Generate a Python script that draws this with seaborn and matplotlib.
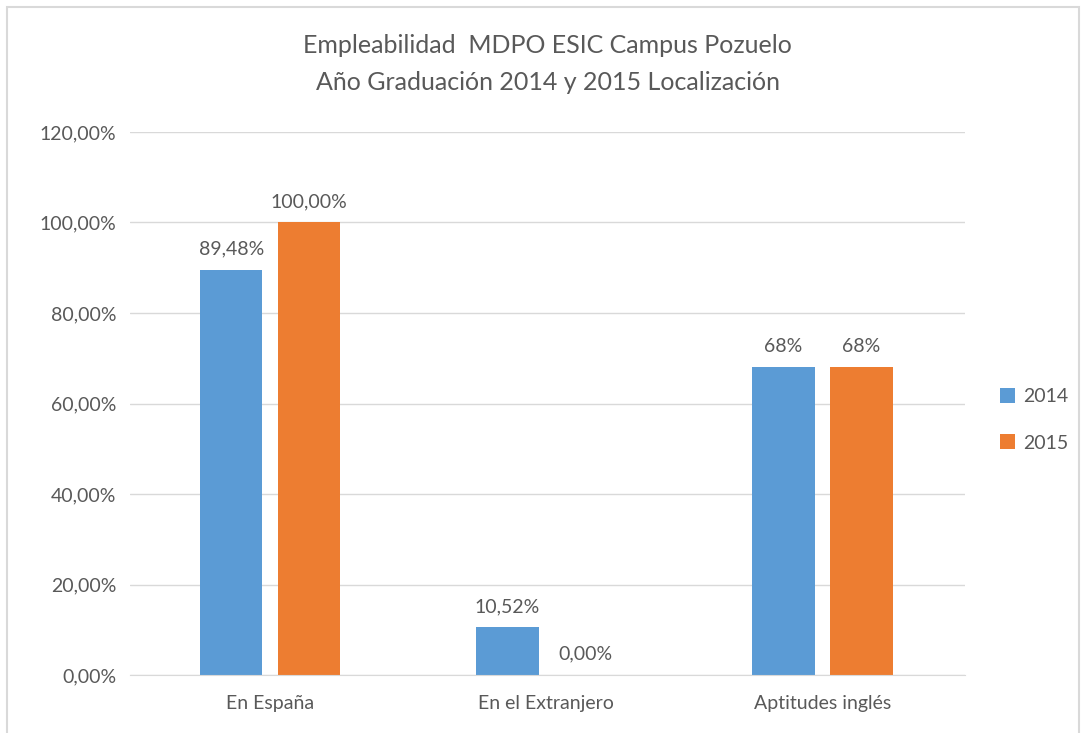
import matplotlib
matplotlib.use("Agg")
import matplotlib.pyplot as plt
from matplotlib.patches import Rectangle
import seaborn as sns
import pandas as pd

categories = ["En España", "En el Extranjero", "Aptitudes inglés"]
years = ["2014", "2015"]
values_2014 = [89.48, 10.52, 68.0]
values_2015 = [100.0, 0.0, 68.0]
labels_2014 = ["89,48%", "10,52%", "68%"]
labels_2015 = ["100,00%", "0,00%", "68%"]
yticks = [0, 20, 40, 60, 80, 100, 120]
ytick_labels = ["0,00%", "20,00%", "40,00%", "60,00%", "80,00%", "100,00%", "120,00%"]

df = pd.DataFrame({
    "cat": categories * 2,
    "year": [years[0]] * 3 + [years[1]] * 3,
    "val": values_2014 + values_2015,
})

sns.set_style("white")
plt.rcParams["font.family"] = ["Lato", "DejaVu Sans"]
txt = "#595959"

fig = plt.figure(figsize=(10.86, 7.33), dpi=100)
ax = fig.add_axes([0.12, 0.079, 0.769, 0.741])

sns.barplot(data=df, x="cat", y="val", hue="year", order=categories,
            hue_order=years, palette=["#5B9BD5", "#ED7D31"], saturation=1,
            width=0.565, gap=0.2, linewidth=0, ax=ax, legend=True)

ax.set_ylim(0, 120)
ax.set_xlim(-0.507, 2.518)
ax.set_yticks(yticks)
ax.set_yticklabels(ytick_labels)
ax.yaxis.grid(True, color="#D9D9D9", linewidth=1)
ax.set_axisbelow(True)
for s in ["top", "right", "left"]:
    ax.spines[s].set_visible(False)
ax.spines["bottom"].set_color("#D9D9D9")
ax.tick_params(axis="both", length=0, labelsize=14, colors=txt)
ax.tick_params(axis="x", pad=14)
ax.tick_params(axis="y", pad=10)
ax.set_xlabel("")
ax.set_ylabel("")

for cont, labs in zip(ax.containers, [labels_2014, labels_2015]):
    ax.bar_label(cont, labels=labs, padding=9, fontsize=14, color=txt)

ax.set_title("Empleabilidad  MDPO ESIC Campus Pozuelo\nAño Graduación 2014 y 2015 Localización",
             fontsize=18, color=txt, pad=30, linespacing=1.75)

leg = ax.legend(loc="center left", bbox_to_anchor=(1.02, 0.47), frameon=False,
                fontsize=14, handlelength=0.8, handleheight=0.8,
                handletextpad=0.4, labelspacing=1.5)
for t in leg.get_texts():
    t.set_color(txt)

fig.patches.append(Rectangle((0.006, -0.01), 0.988, 1.0, transform=fig.transFigure,
                             fill=False, edgecolor="#D9D9D9", linewidth=1.5))

fig.savefig("out.png", dpi=100)
